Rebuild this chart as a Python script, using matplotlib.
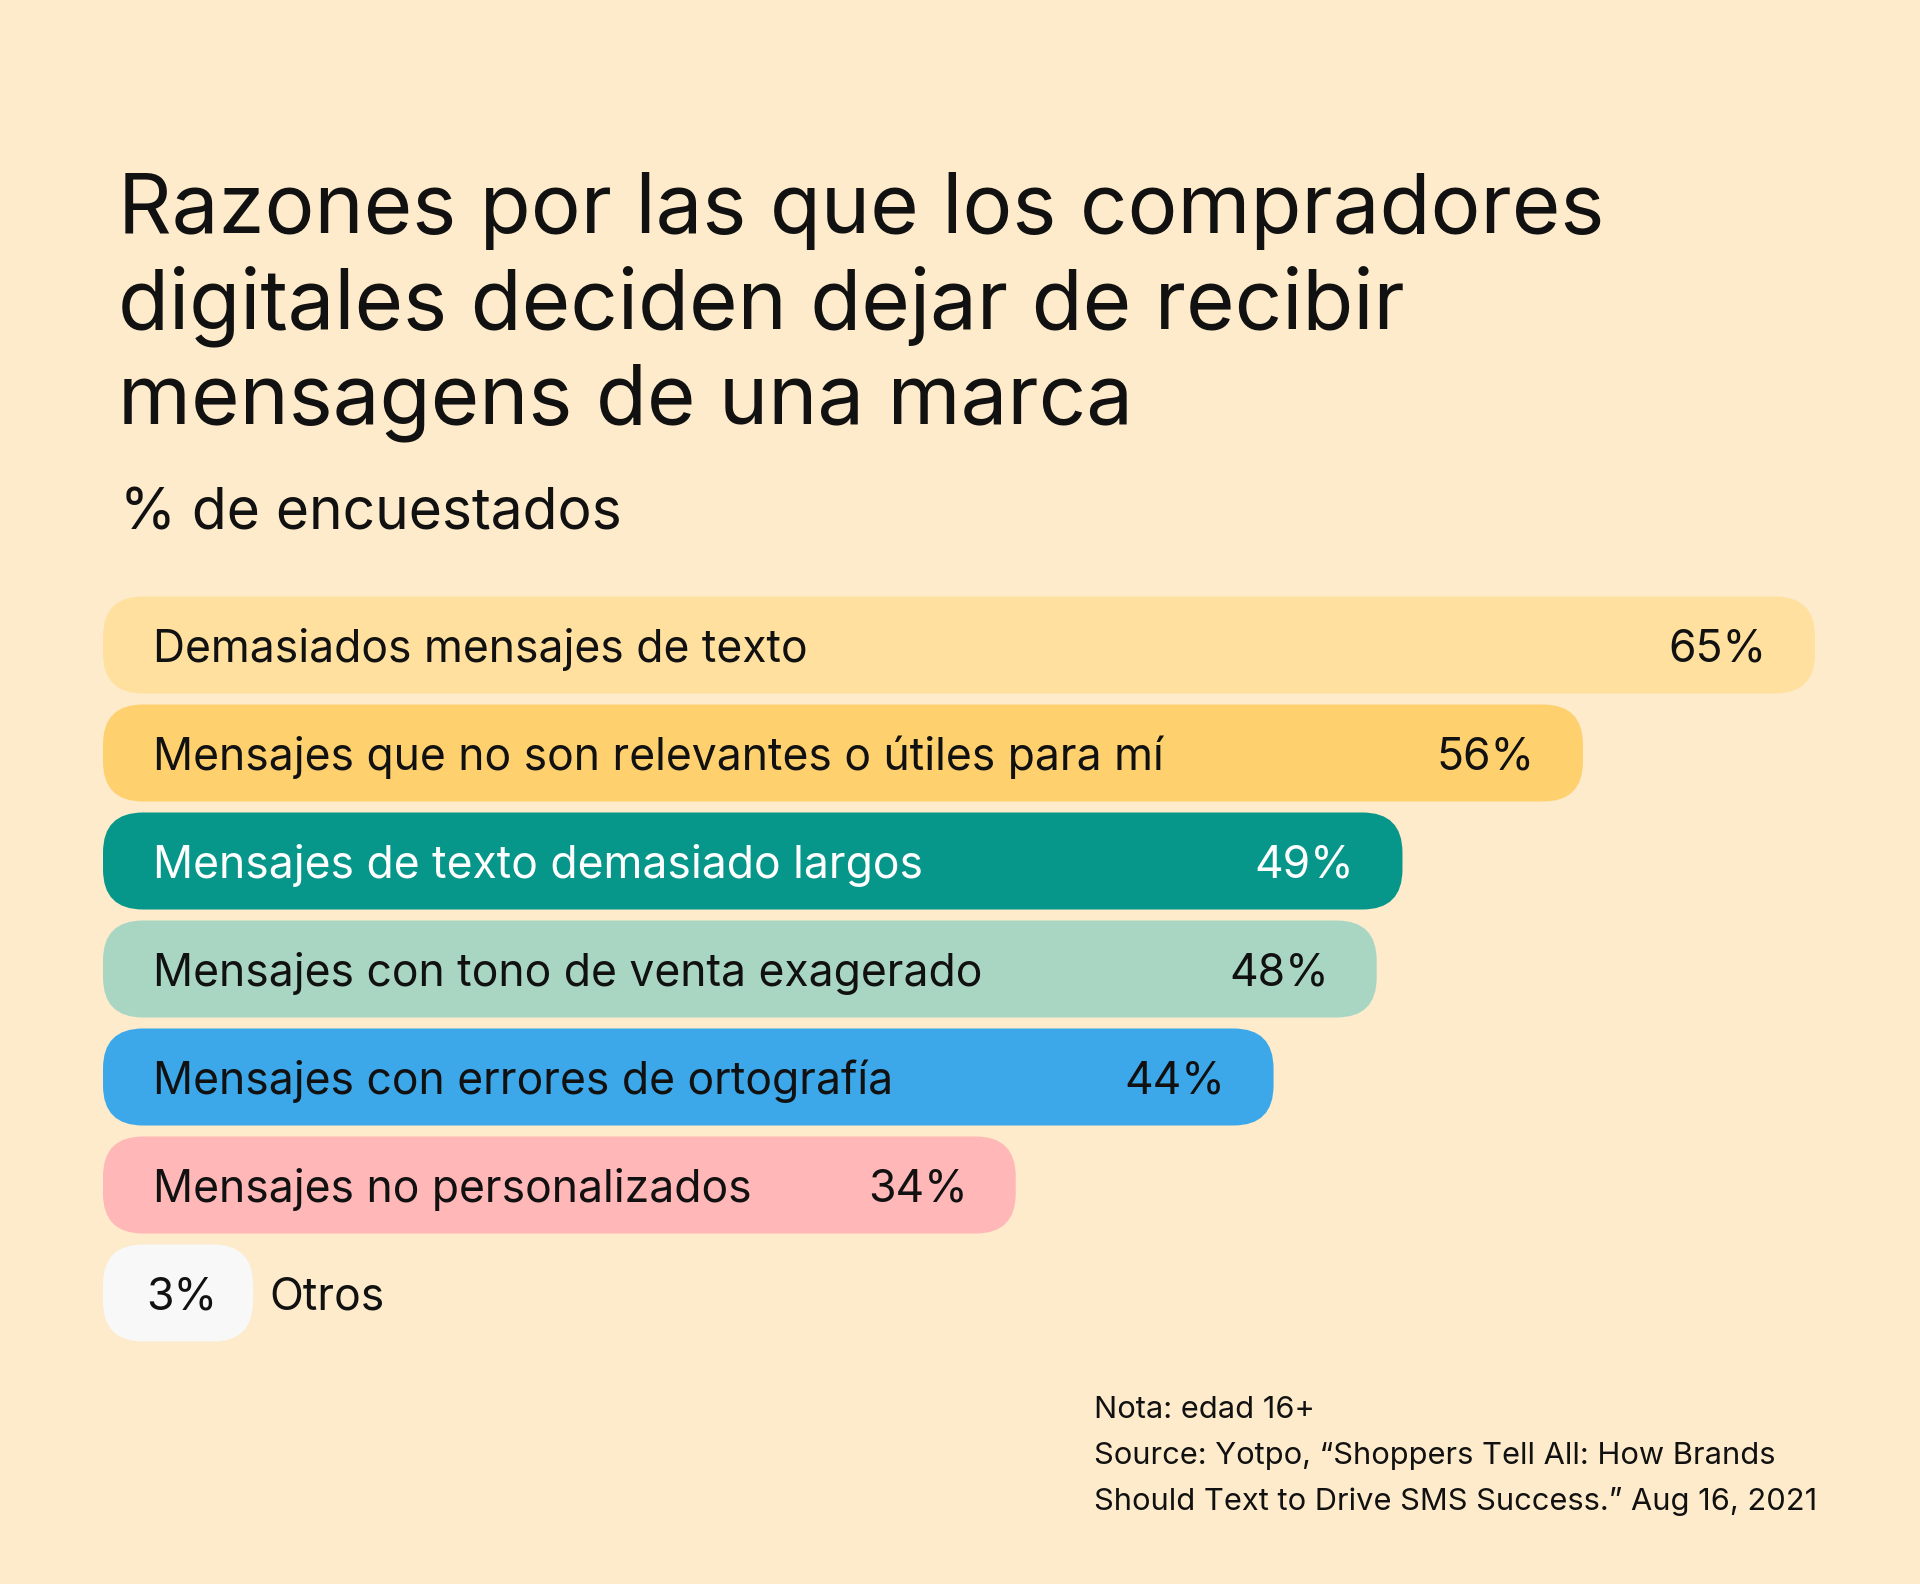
import matplotlib
matplotlib.use("Agg")
import matplotlib.pyplot as plt
from matplotlib.patches import FancyBboxPatch

# ---- data ----
categories = [
    "Demasiados mensajes de texto",
    "Mensajes que no son relevantes o útiles para mí",
    "Mensajes de texto demasiado largos",
    "Mensajes con tono de venta exagerado",
    "Mensajes con errores de ortografía",
    "Mensajes no personalizados",
    "Otros",
]
values = [65, 56, 49, 48, 44, 34, 3]
value_labels = ["65%", "56%", "49%", "48%", "44%", "34%", "3%"]

title_lines = ["Razones por las que los compradores",
               "digitales deciden dejar de recibir",
               "mensagens de una marca"]
subtitle = "% de encuestados"
note_lines = ["Nota: edad 16+",
              "Source: Yotpo, \u201cShoppers Tell All: How Brands",
              "Should Text to Drive SMS Success.\u201d Aug 16, 2021"]

# ---- style ----
BG = "#FDEBCB"
bar_colors = ["#FFE09F", "#FFD06E", "#06968A", "#A9D6C3", "#3CA8EA", "#FFB7B7", "#F8F8F8"]
text_colors = ["#111111", "#111111", "#FFFFFF", "#111111", "#111111", "#111111", "#111111"]
FONT = ["Inter", "DejaVu Sans"]
plt.rcParams["font.family"] = FONT

W, H = 1920, 1584
DPI = 100
fig = plt.figure(figsize=(W / DPI, H / DPI), dpi=DPI, facecolor=BG)

def px(x, y):
    return x / W, 1 - y / H

# title & subtitle
for k, line in enumerate(title_lines):
    fig.text(*px(118, 233 + k * 95), line, fontsize=60, ha="left", va="baseline", color="#111111")
fig.text(*px(120, 529), subtitle, fontsize=41, ha="left", va="baseline", color="#111111")

# bars axes
x0_data = -1.4
left_px, right_px = 103, 1815
pitch = 108
top_px = 645 - pitch / 2
n = len(values)
bottom_px = top_px + n * pitch
ax = fig.add_axes([left_px / W, 1 - bottom_px / H, (right_px - left_px) / W, (bottom_px - top_px) / H])
ax.set_xlim(x0_data, max(values))
ax.set_ylim(n - 0.5, -0.5)
ax.axis("off")
ax.patch.set_alpha(0)

bar_h = 97 / pitch
x_px_per_unit = (right_px - left_px) / (max(values) - x0_data)
y_px_per_unit = pitch
aspect = x_px_per_unit / y_px_per_unit
radius_px = 40
r_x = radius_px / x_px_per_unit
min_end = x0_data + 150 / x_px_per_unit

for i, (cat, v, lab) in enumerate(zip(categories, values, value_labels)):
    end = max(v, min_end)
    patch = FancyBboxPatch((x0_data, i - bar_h / 2), end - x0_data, bar_h,
                           boxstyle=f"round,pad=0,rounding_size={r_x}",
                           mutation_aspect=aspect,
                           facecolor=bar_colors[i], edgecolor="none")
    ax.add_patch(patch)
    tc = text_colors[i]
    if i < n - 1:
        ax.annotate(cat, xy=(x0_data, i), xytext=(50 * 0.72, 0), textcoords="offset points",
                    ha="left", va="center_baseline", fontsize=32, color=tc)
        ax.annotate(lab, xy=(v, i), xytext=(-48 * 0.72, 0), textcoords="offset points",
                    ha="right", va="center_baseline", fontsize=32, color=tc)
    else:
        ax.annotate(lab, xy=((x0_data + end) / 2, i), xytext=(4 * 0.72, 0), textcoords="offset points",
                    ha="center", va="center_baseline", fontsize=32, color=tc)
        ax.annotate(cat, xy=(end, i), xytext=(16 * 0.72, 0), textcoords="offset points",
                    ha="left", va="center_baseline", fontsize=32, color=tc)

# notes
for k, line in enumerate(note_lines):
    fig.text(*px(1094, 1418 + k * 46), line, fontsize=22.2, ha="left", va="baseline", color="#111111")

fig.savefig("out.png", dpi=DPI, facecolor=BG)
